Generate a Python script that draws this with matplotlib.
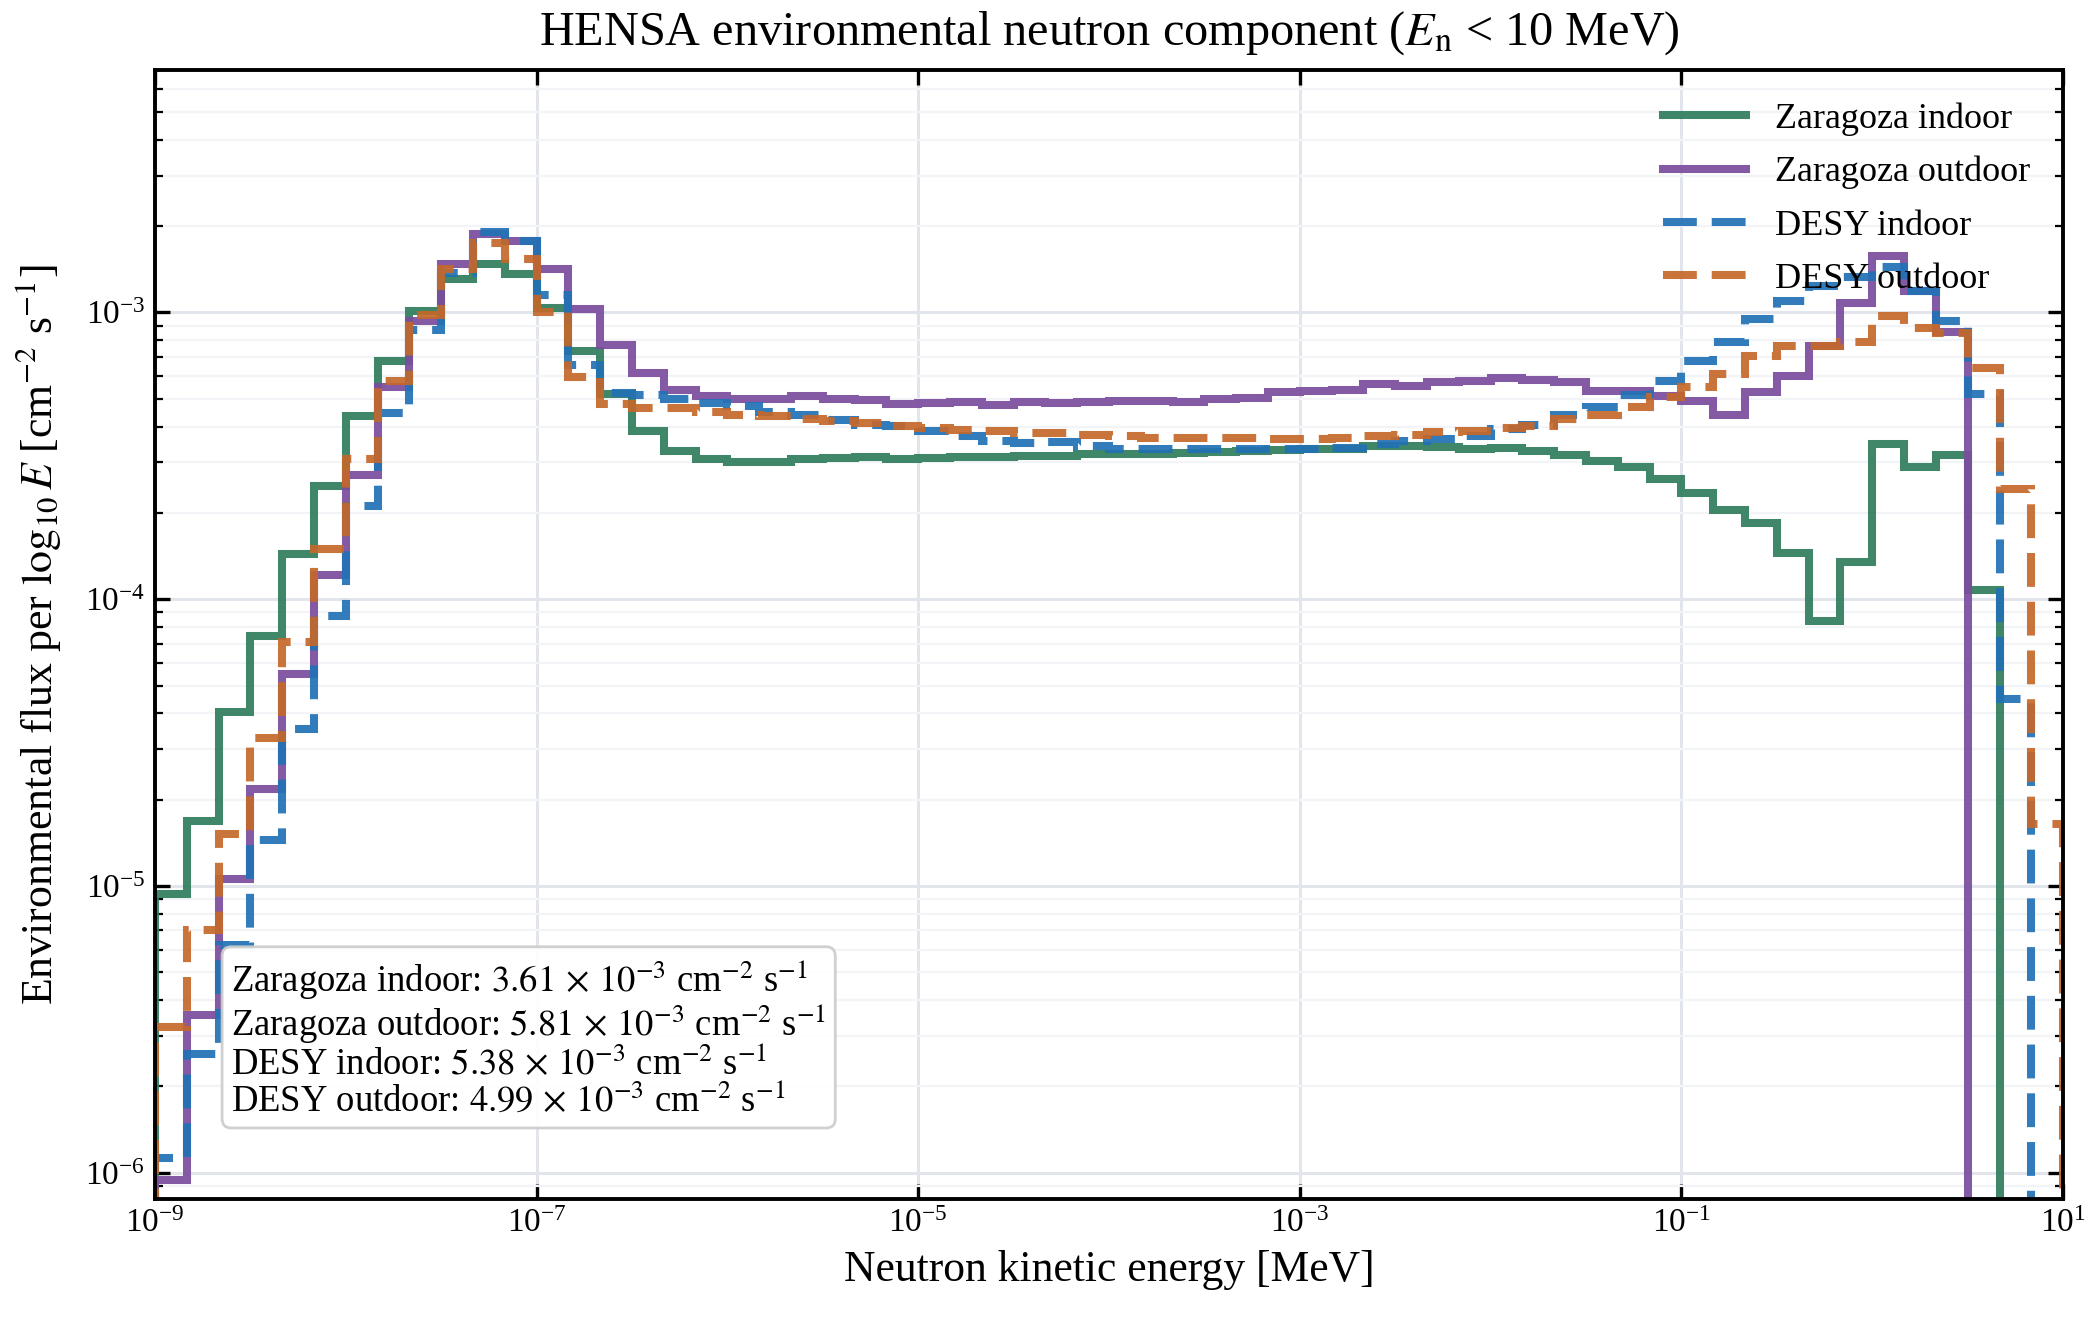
import numpy as np
import matplotlib
matplotlib.use("Agg")
import matplotlib.pyplot as plt
from matplotlib.ticker import NullLocator, LogLocator

plt.rcParams["font.family"] = ["Liberation Serif", "DejaVu Serif"]
plt.rcParams["mathtext.fontset"] = "stix"

# ----------------- Data -----------------

# energy bins: 6 per decade, 1e-9 .. 10 MeV
bin_edges = np.logspace(-9, 1, 61)

# flux per log10 E [cm^-2 s^-1], one value per bin
zaragoza_indoor = [
    9.4e-6, 1.69e-5, 4.04e-5, 7.45e-5, 1.44e-4, 2.48e-4, 4.35e-4, 6.75e-4, 1.01e-3, 1.31e-3,
    1.47e-3, 1.36e-3, 1.04e-3, 7.31e-4, 5.2e-4, 3.86e-4, 3.28e-4, 3.07e-4, 3.02e-4, 3.0e-4,
    3.07e-4, 3.1e-4, 3.12e-4, 3.07e-4, 3.1e-4, 3.12e-4, 3.13e-4, 3.15e-4, 3.15e-4, 3.22e-4,
    3.22e-4, 3.22e-4, 3.24e-4, 3.27e-4, 3.29e-4, 3.31e-4, 3.33e-4, 3.35e-4, 3.42e-4, 3.42e-4,
    3.4e-4, 3.34e-4, 3.37e-4, 3.29e-4, 3.19e-4, 3.04e-4, 2.88e-4, 2.62e-4, 2.35e-4, 2.04e-4,
    1.85e-4, 1.45e-4, 8.37e-5, 1.35e-4, 3.48e-4, 2.9e-4, 3.19e-4, 1.08e-4, 0.0, 0.0,
]
zaragoza_outdoor = [
    9.46e-7, 3.55e-6, 1.06e-5, 2.18e-5, 5.48e-5, 1.21e-4, 2.71e-4, 5.5e-4, 9.3e-4, 1.47e-3,
    1.88e-3, 1.78e-3, 1.42e-3, 1.03e-3, 7.67e-4, 6.15e-4, 5.38e-4, 5.1e-4, 4.99e-4, 4.99e-4,
    5.1e-4, 4.97e-4, 4.94e-4, 4.8e-4, 4.84e-4, 4.86e-4, 4.74e-4, 4.86e-4, 4.83e-4, 4.87e-4,
    4.91e-4, 4.9e-4, 4.86e-4, 4.97e-4, 5.03e-4, 5.27e-4, 5.3e-4, 5.38e-4, 5.63e-4, 5.56e-4,
    5.7e-4, 5.75e-4, 5.9e-4, 5.8e-4, 5.7e-4, 5.33e-4, 5.33e-4, 5.1e-4, 4.9e-4, 4.4e-4,
    5.27e-4, 6.02e-4, 7.66e-4, 1.08e-3, 1.57e-3, 1.19e-3, 8.52e-4, 0.0, 0.0, 0.0,
]
desy_indoor = [
    1.13e-6, 2.6e-6, 6.2e-6, 1.45e-5, 3.53e-5, 8.75e-5, 2.11e-4, 4.46e-4, 8.7e-4, 1.37e-3,
    1.9e-3, 1.78e-3, 1.15e-3, 6.54e-4, 5.23e-4, 5.15e-4, 5.0e-4, 4.83e-4, 4.71e-4, 4.5e-4,
    4.37e-4, 4.23e-4, 4.06e-4, 4.01e-4, 3.85e-4, 3.7e-4, 3.56e-4, 3.51e-4, 3.53e-4, 3.42e-4,
    3.34e-4, 3.33e-4, 3.33e-4, 3.33e-4, 3.33e-4, 3.33e-4, 3.33e-4, 3.37e-4, 3.48e-4, 3.57e-4,
    3.62e-4, 3.7e-4, 3.93e-4, 4.06e-4, 4.4e-4, 4.67e-4, 5.15e-4, 5.78e-4, 6.75e-4, 7.87e-4,
    9.48e-4, 1.1e-3, 1.24e-3, 1.33e-3, 1.44e-3, 1.19e-3, 9.3e-4, 5.2e-4, 4.5e-5, 0.0,
]
desy_outdoor = [
    3.23e-6, 7.0e-6, 1.52e-5, 3.27e-5, 7.07e-5, 1.5e-4, 3.07e-4, 5.75e-4, 9.76e-4, 1.42e-3,
    1.74e-3, 1.54e-3, 1.0e-3, 5.96e-4, 4.81e-4, 4.65e-4, 4.65e-4, 4.49e-4, 4.4e-4, 4.35e-4,
    4.26e-4, 4.18e-4, 4.1e-4, 4.03e-4, 3.96e-4, 3.9e-4, 3.85e-4, 3.8e-4, 3.79e-4, 3.75e-4,
    3.7e-4, 3.66e-4, 3.66e-4, 3.64e-4, 3.64e-4, 3.62e-4, 3.62e-4, 3.66e-4, 3.7e-4, 3.74e-4,
    3.82e-4, 3.85e-4, 3.95e-4, 4.01e-4, 4.26e-4, 4.39e-4, 4.67e-4, 5.06e-4, 5.48e-4, 6.1e-4,
    7.06e-4, 7.63e-4, 7.63e-4, 7.9e-4, 9.75e-4, 8.8e-4, 8.5e-4, 6.39e-4, 2.42e-4, 1.65e-5,
]

labels = ["Zaragoza indoor", "Zaragoza outdoor", "DESY indoor", "DESY outdoor"]
total_flux_e3 = [3.61, 5.81, 5.38, 4.99]  # integrated flux, units of 1e-3 cm^-2 s^-1

colors = ["#2E7D5B", "#7B4C9E", "#2171B5", "#C4682A"]
dashed = (0, (4.2, 1.85))
styles = ["-", "-", dashed, dashed]

# ----------------- Plot -----------------

fig = plt.figure(figsize=(10.495, 6.595), dpi=200)
ax = fig.add_axes([0.0738, 0.091, 0.9091, 0.8559])

for vals, lab, col, ls in zip([zaragoza_indoor, zaragoza_outdoor, desy_indoor, desy_outdoor],
                              labels, colors, styles):
    ax.stairs(vals, bin_edges, baseline=0, edgecolor=col, linewidth=2.9,
              linestyle=ls, alpha=0.92, label=lab)

ax.set_xscale("log")
ax.set_yscale("log")
ax.set_xlim(1e-9, 10)
ax.set_ylim(8.1e-7, 7.0e-3)

ax.set_xticks([1e-9, 1e-7, 1e-5, 1e-3, 1e-1, 1e1])
ax.xaxis.set_minor_locator(NullLocator())
ax.yaxis.set_major_locator(LogLocator(base=10, numticks=10))
ax.yaxis.set_minor_locator(LogLocator(base=10, subs=np.arange(2, 10), numticks=20))

ax.tick_params(which="both", direction="in", top=True, right=True, labelsize=12)
ax.tick_params(which="major", length=5.5, width=1.2)
ax.tick_params(which="minor", length=3, width=0.8)
for sp in ax.spines.values():
    sp.set_linewidth(1.4)

ax.grid(True, which="major", color="#E2E5EC", linewidth=1.1)
ax.grid(True, which="minor", axis="y", color="#F3F4F7", linewidth=0.8)
ax.set_axisbelow(True)

ax.set_xlabel("Neutron kinetic energy [MeV]", fontsize=15.7)
ax.set_ylabel(r"Environmental flux per $\log_{10} E$ [cm$^{-2}$ s$^{-1}$]",
              fontsize=15.8, labelpad=8)
ax.set_title(r"HENSA environmental neutron component ($E_\mathrm{n}$ < 10 MeV)",
             fontsize=17.4, pad=9)

ax.legend(loc="upper right", frameon=False, fontsize=13, handlelength=2.3,
          labelspacing=0.55)

lines = [rf"{lab}: ${v:.2f}\,\times\,10^{{-3}}$ cm$^{{-2}}$ s$^{{-1}}$"
         for lab, v in zip(labels, total_flux_e3)]
ax.text(0.04, 0.071, "\n".join(lines), transform=ax.transAxes, fontsize=13.2,
        ha="left", va="bottom", zorder=5, linespacing=1.04,
        bbox=dict(boxstyle="round,pad=0.25", facecolor="white", edgecolor="#CCCCCC",
                  alpha=0.92))

fig.savefig("out.png", dpi=200)
